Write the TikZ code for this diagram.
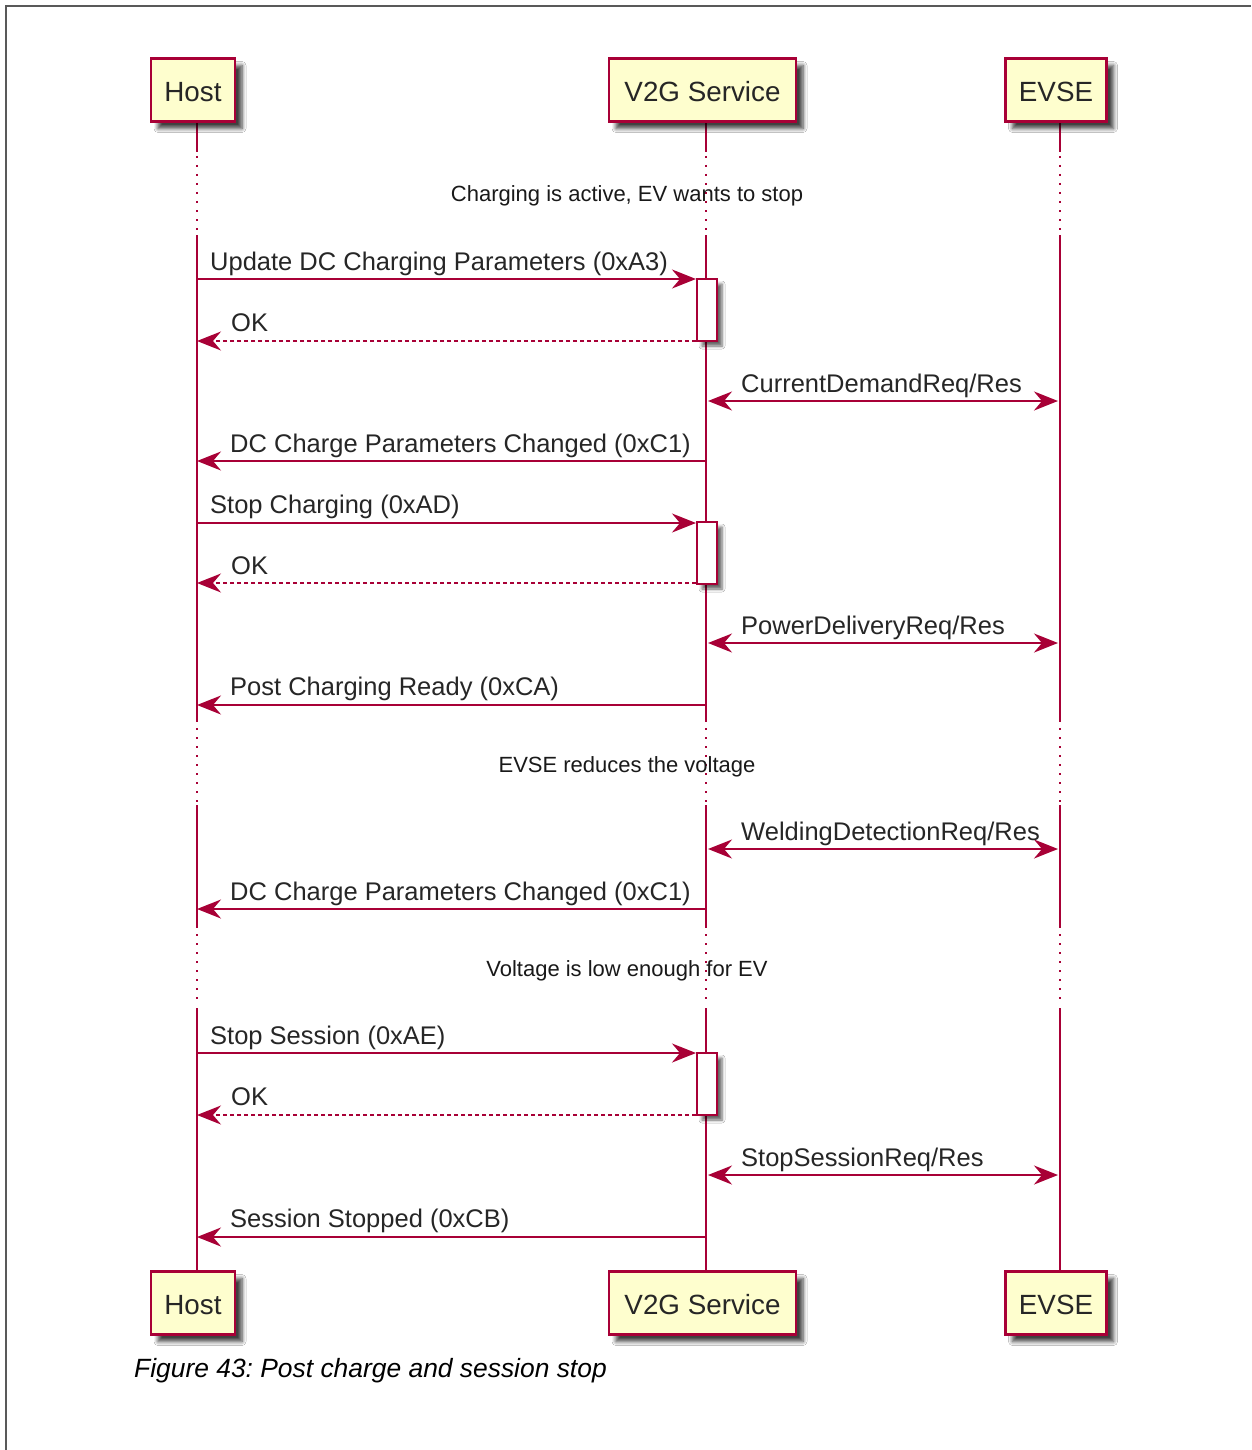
\documentclass[tikz,border=0pt]{standalone}
\usepackage{fontspec}
\setmainfont{Liberation Sans}
\usetikzlibrary{arrows.meta,shadows,shadows.blur}
\definecolor{umlred}{HTML}{A80036}
\definecolor{umlfill}{HTML}{FEFECE}
\frenchspacing
\begin{document}
\begin{tikzpicture}[x=1pt,y=-1pt,
  participant/.style={draw=umlred, line width=2.5pt, fill=umlfill, minimum height=63pt,
    inner sep=0pt, text height=23pt, text depth=0pt, text=black!85, font=\fontsize{27.8}{32}\selectfont,
    blur shadow={shadow xshift=7pt, shadow yshift=-7pt, shadow blur radius=4pt, shadow blur steps=6, shadow opacity=75}},
  act/.style={draw=umlred, line width=2pt, fill=white, minimum width=20pt, minimum height=62pt,
    inner sep=0pt, blur shadow={shadow xshift=5pt, shadow yshift=-5pt, shadow blur radius=3pt, shadow blur steps=5, shadow opacity=60}},
  life/.style={draw=umlred, line width=2pt},
  lifedot/.style={draw=umlred, line width=2pt, dash pattern=on 2pt off 7pt},
  tip/.tip={Stealth[length=24pt, width=19pt, inset=8pt]},
  msg/.style={draw=umlred, line width=2pt, -tip},
  ret/.style={draw=umlred, line width=1.6pt, dash pattern=on 4pt off 3pt, -tip},
  dbl/.style={draw=umlred, line width=2pt, tip-tip},
  lbl/.style={anchor=base west, inner sep=0pt, text=black!85, font=\fontsize{25.5}{30}\selectfont},
  divtxt/.style={inner sep=0pt, text=black!90, font=\fontsize{22}{26}\selectfont}
]
\useasboundingbox (0,0) rectangle (1251,1450);
\fill[white] (0,0) rectangle (1251,1450);
\draw[black!65, line width=1.5pt] (6,1450) -- (6,6) -- (1251,6);

% lifelines x: host 197, v2g 706, evse 1060
\foreach \x in {197,706,1060}{
  \draw[life] (\x,122) -- (\x,152);
  \draw[lifedot] (\x,156) -- (\x,232);
  \draw[life] (\x,235) -- (\x,722);
  \draw[lifedot] (\x,728) -- (\x,802);
  \draw[life] (\x,805) -- (\x,928);
  \draw[lifedot] (\x,934) -- (\x,1005);
  \draw[life] (\x,1008) -- (\x,1272);
}

% participants
\node[participant, minimum width=84pt] (hostT) at (193,90) {Host};
\node[participant, minimum width=187pt] (v2gT) at (702.5,90) {V2G Service};
\node[participant, minimum width=101pt] (evseT) at (1056,90) {EVSE};
\node[participant, minimum width=84pt] (hostB) at (193,1303) {Host};
\node[participant, minimum width=187pt] (v2gB) at (702.5,1303) {V2G Service};
\node[participant, minimum width=101pt] (evseB) at (1056,1303) {EVSE};

% dividers
\node[divtxt] (d1) at (627,196) {Charging is active, EV wants to stop};
\node[divtxt] (d2) at (627,767) {EVSE reduces the voltage};
\node[divtxt] (d3) at (627,971) {Voltage is low enough for EV};

% activations
\node[act] (a1) at (707,310) {};
\node[act] (a2) at (707,553) {};
\node[act] (a3) at (707,1084) {};

% coordinates on lifelines
\coordinate (h1) at (197,279);
\coordinate (h2) at (197,341);
\coordinate (v3) at (708,401);  \coordinate (e3) at (1058,401);
\coordinate (v4) at (706,461);  \coordinate (h4) at (197,461);
\coordinate (h5) at (197,523);
\coordinate (h6) at (197,583);
\coordinate (v7) at (708,643);  \coordinate (e7) at (1058,643);
\coordinate (v8) at (706,705);  \coordinate (h8) at (197,705);
\coordinate (v9) at (708,849);  \coordinate (e9) at (1058,849);
\coordinate (v10) at (706,909); \coordinate (h10) at (197,909);
\coordinate (h11) at (197,1053);
\coordinate (h12) at (197,1115);
\coordinate (v13) at (708,1175); \coordinate (e13) at (1058,1175);
\coordinate (v14) at (706,1237); \coordinate (h14) at (197,1237);

% messages
\draw[msg] (h1) -- (h1 -| a1.west);
\draw[ret] (h2 -| a1.west) -- (h2);
\draw[dbl] (v3) -- (e3);
\draw[msg] (v4) -- (h4);
\draw[msg] (h5) -- (h5 -| a2.west);
\draw[ret] (h6 -| a2.west) -- (h6);
\draw[dbl] (v7) -- (e7);
\draw[msg] (v8) -- (h8);
\draw[dbl] (v9) -- (e9);
\draw[msg] (v10) -- (h10);
\draw[msg] (h11) -- (h11 -| a3.west);
\draw[ret] (h12 -| a3.west) -- (h12);
\draw[dbl] (v13) -- (e13);
\draw[msg] (v14) -- (h14);

% labels
\node[lbl] (l1) at (210,270) {Update DC Charging Parameters (0xA3)};
\node[lbl] (l2) at (231,331) {OK};
\node[lbl] (l3) at (741,392) {CurrentDemandReq/Res};
\node[lbl] (l4) at (230,452) {DC Charge Parameters Changed (0xC1)};
\node[lbl] (l5) at (210,513) {Stop Charging (0xAD)};
\node[lbl] (l6) at (231,574) {OK};
\node[lbl] (l7) at (741,634) {PowerDeliveryReq/Res};
\node[lbl] (l8) at (230,695) {Post Charging Ready (0xCA)};
\node[lbl] (l9) at (741,840) {WeldingDetectionReq/Res};
\node[lbl] (l10) at (230,900) {DC Charge Parameters Changed (0xC1)};
\node[lbl] (l11) at (210,1044) {Stop Session (0xAE)};
\node[lbl] (l12) at (231,1105) {OK};
\node[lbl] (l13) at (741,1166) {StopSessionReq/Res};
\node[lbl] (l14) at (230,1227) {Session Stopped (0xCB)};

% caption
\node[anchor=base west, inner sep=0pt, font=\itshape\fontsize{26.4}{30}\selectfont] (cap) at (134,1377) {Figure 43: Post charge and session stop};
\end{tikzpicture}
\end{document}
